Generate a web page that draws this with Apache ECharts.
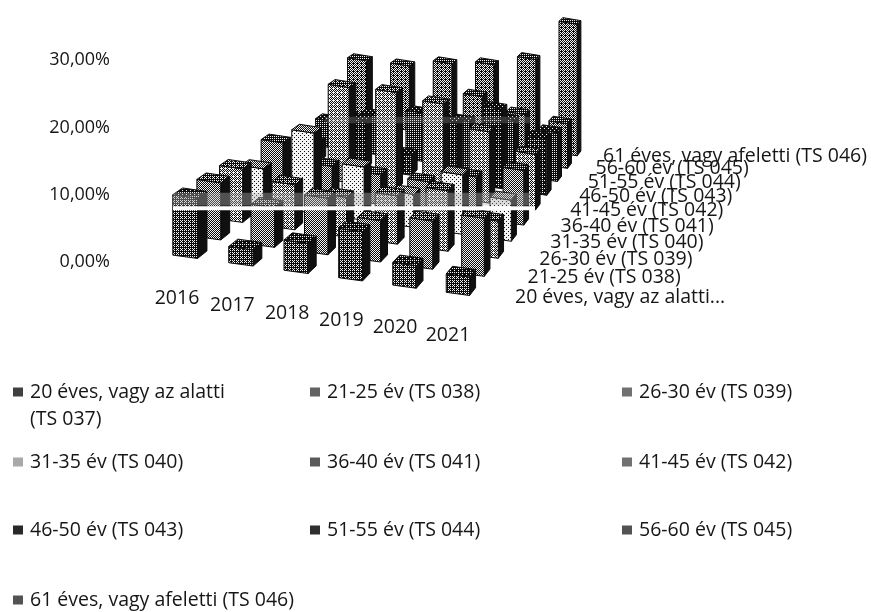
<!DOCTYPE html>
<html>
<head>
<meta charset="utf-8">
<style>html,body{margin:0;padding:0;background:#fff}#c{width:871px;height:612px}</style>
<script src="https://cdn.jsdelivr.net/npm/echarts@6/dist/echarts.min.js"></script>
</head>
<body>
<div id="c"></div>
<script>
// ---------- data ----------
var years = ['2016','2017','2018','2019','2020','2021'];
var seriesNames = ['20 éves, vagy az alatti (TS 037)','21-25 év (TS 038)','26-30 év (TS 039)','31-35 év (TS 040)','36-40 év (TS 041)','41-45 év (TS 042)','46-50 év (TS 043)','51-55 év (TS 044)','56-60 év (TS 045)','61 éves, vagy afeletti (TS 046)'];
var depthLabels = ['20 éves, vagy az alatti...','21-25 év (TS 038)','26-30 év (TS 039)','31-35 év (TS 040)','36-40 év (TS 041)','41-45 év (TS 042)','46-50 év (TS 043)','51-55 év (TS 044)','56-60 év (TS 045)','61 éves, vagy afeletti (TS 046)'];
var yTickLabels = ['0,00%','10,00%','20,00%','30,00%'];
var v037 = [8.9,2.4,4.5,7.4,3.4,2.8];
var v038 = [8.7,6.1,8.7,6.4,7.5,9.1];
var v039 = [8.4,7.1,6.3,7.7,9.7,6.0];
var v040 = [6.0,13.0,8.7,5.4,9.8,6.8];
var v041 = [7.9,5.2,5.0,5.0,7.0,9.3];
var v042 = [3.0,16.3,16.7,16.0,12.4,9.7];
var v043 = [3.1,8.4,3.6,10.5,14.2,10.2];
var v044 = [4.8,7.0,8.8,8.5,10.0,9.0];
var v045 = [3.5,4.7,5.0,11.0,8.9,8.4];
var v046 = [11.9,12.2,13.9,15.0,17.3,25.4];
var allValues = [v037,v038,v039,v040,v041,v042,v043,v044,v045,v046];
// ---------- style ----------
var grays = [85,130,150,225,120,150,55,62,110,110];
var FONT = '19.5px "Open Sans", sans-serif';
var TEXT = '#161616';
// oblique floor of the 3D box, in axis units [x, percent]
var floorCorners = {p00:[190,1.34], p10:[461,-4.16], p11:[570,16.34], p01:[360,21.1]};
var PCT_PX = 6.73, Y0_PX = 262;
var hw = 0.22, hd = 0.2;

var H = (function(){
  var c = floorCorners, x0=c.p00[0],y0=c.p00[1],x1=c.p10[0],y1=c.p10[1],x2=c.p11[0],y2=c.p11[1],x3=c.p01[0],y3=c.p01[1];
  var dx1=x1-x2,dx2=x3-x2,sx=x0-x1+x2-x3,dy1=y1-y2,dy2=y3-y2,sy=y0-y1+y2-y3;
  var den=dx1*dy2-dx2*dy1, g=(sx*dy2-dx2*sy)/den, h=(dx1*sy-sx*dy1)/den;
  return {a:x1-x0+g*x1,b:x3-x0+h*x3,c:x0,d:y1-y0+g*y1,e:y3-y0+h*y3,f:y0,g:g,h:h};
})();
function project(i,s,v){
  var u=i/5,t=s/9,w=1+H.g*u+H.h*t;
  return [(H.a*u+H.b*t+H.c)/w,(H.d*u+H.e*t+H.f)/w+(v||0)/w];
}
function halftone(gray){
  var B=[0,8,2,10,12,4,14,6,3,11,1,9,15,7,13,5];
  var cv=document.createElement('canvas');cv.width=4;cv.height=4;
  var ctx=cv.getContext('2d');
  for(var k=0;k<16;k++){
    ctx.fillStyle=(gray/255*16>B[k]+0.5)?'#f4f4f4':'#0c0c0c';
    ctx.fillRect(k%4,Math.floor(k/4),1,1);
  }
  return {image:cv,repeat:'repeat'};
}
function barSeries(s){
  var pat=halftone(grays[s]), top=halftone(Math.round(grays[s]*0.55));
  var data=allValues[s].map(function(v,i){return [i,v];});
  var lg=Math.round(grays[s]*0.75);
  return {
    type:'custom',name:seriesNames[s],coordinateSystem:'cartesian2d',clip:false,
    itemStyle:{color:'rgb('+lg+','+lg+','+lg+')'},
    data:data,
    renderItem:function(params,api){
      var i=api.value(0),v=api.value(1);
      function pt(a,b,h){return api.coord(project(a,b,h));}
      var a0=pt(i-hw,s-hd,0),b0=pt(i+hw,s-hd,0),c0=pt(i+hw,s+hd,0);
      var at=pt(i-hw,s-hd,v),bt=pt(i+hw,s-hd,v),ct=pt(i+hw,s+hd,v),dt=pt(i-hw,s+hd,v);
      function poly(points,fill){return {type:'polygon',shape:{points:points},style:{fill:fill,stroke:'#0c0c0c',lineWidth:1}};}
      return {type:'group',children:[
        poly([b0,c0,ct,bt],'#101010'),
        poly([a0,b0,bt,at],pat),
        poly([at,bt,ct,dt],top)
      ]};
    }
  };
}
function textSeries(name,items,pos,align){
  return {type:'custom',name:name,coordinateSystem:'cartesian2d',clip:false,silent:true,z:5,
    data:items.map(function(t,k){return [k,0];}),
    renderItem:function(params,api){
      var k=api.value(0),p=api.coord(pos(k));
      return {type:'text',style:{text:items[k],x:p[0],y:p[1],font:FONT,fill:TEXT,align:align,verticalAlign:'middle'}};
    }
  };
}
// scan streaks across the plot: [x from, x to, percent top, percent bottom]
var streakGray=[[173,530,10.3,8.4]];
var streakWhite=[[173,535,8.3,7.7]];
var streakFaint=[[325,530,21.6,20.6]];
function bandSeries(rows,fill){
  return {type:'custom',name:'streak',coordinateSystem:'cartesian2d',clip:false,silent:true,z:4,
    data:rows.map(function(r){return r.slice();}),
    renderItem:function(params,api){
      var a=api.coord([api.value(0),api.value(2)]),b=api.coord([api.value(1),api.value(3)]);
      return {type:'rect',shape:{x:a[0],y:a[1],width:b[0]-a[0],height:b[1]-a[1]},style:{fill:fill}};
    }
  };
}
var series=[];
for(var s=9;s>=0;s--)series.push(barSeries(s));
series.push(bandSeries(streakFaint,'rgba(170,170,170,0.25)'));
series.push(bandSeries(streakGray,'rgba(180,180,180,0.4)'));
series.push(bandSeries(streakWhite,'#ffffff'));
series.push(textSeries('years',years,function(k){var p=project(k,0,0);return [p[0]-13,p[1]-45/PCT_PX];},'center'));
series.push(textSeries('depth',depthLabels,function(k){var p=project(5,k,0);return [p[0]+54-21*k/9,p[1]-(7-3*k/9)/PCT_PX];},'left'));

// legend grid: column left px, row centre y px
var legendCols=[13,310,622], legendRows=[392,462,530,600];
var legendPlace=[[0,0],[1,0],[2,0],[0,1],[1,1],[2,1],[0,2],[1,2],[2,2],[0,3]];
var legends=seriesNames.map(function(n,k){
  return {show:true,data:[n],left:legendCols[legendPlace[k][0]],top:legendRows[legendPlace[k][1]]-11,padding:0,
    itemWidth:10,itemHeight:9,itemGap:0,icon:'rect',selectedMode:false,
    formatter:function(name){return name===seriesNames[0]?'20 éves, vagy az alatti':name;},
    textStyle:{fontFamily:'Open Sans',fontSize:19.5,color:TEXT,padding:[0,0,0,2],lineHeight:22}};
});

var chart=echarts.init(document.getElementById('c'),null,{renderer:'canvas'});
chart.setOption({
  animation:false,backgroundColor:'#fff',
  grid:{left:108,width:736,top:Y0_PX-35*PCT_PX,height:45*PCT_PX},
  xAxis:{type:'value',min:108,max:844,show:false},
  yAxis:{type:'value',min:-10,max:35,interval:10,
    axisLine:{show:false},axisTick:{show:false},splitLine:{show:false},
    axisLabel:{show:true,margin:-2,showMaxLabel:false,color:TEXT,fontFamily:'Open Sans',fontSize:18,
      formatter:function(v){var k=Math.round(v/10);return k>=0&&k<yTickLabels.length?yTickLabels[k]:'';}}},
  legend:legends,
  graphic:[{type:'text',left:30,top:409,style:{text:'(TS 037)',font:FONT,fill:TEXT}}],
  series:series
});
</script>
</body>
</html>
